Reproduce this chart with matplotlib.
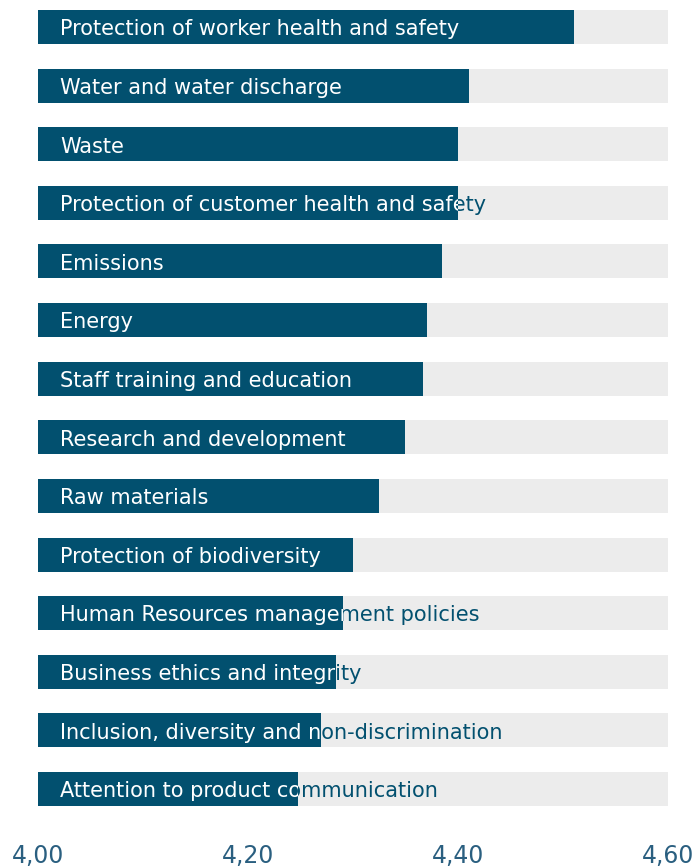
import matplotlib
matplotlib.use('Agg')
import matplotlib.pyplot as plt
from matplotlib.transforms import Bbox, TransformedBbox

# Data
topics = [
    'Protection of worker health and safety',
    'Water and water discharge',
    'Waste',
    'Protection of customer health and safety',
    'Emissions',
    'Energy',
    'Staff training and education',
    'Research and development',
    'Raw materials',
    'Protection of biodiversity',
    'Human Resources management policies',
    'Business ethics and integrity',
    'Inclusion, diversity and non-discrimination',
    'Attention to product communication',
]
scores = [4.51, 4.41, 4.40, 4.40, 4.385, 4.37, 4.367, 4.35, 4.325, 4.30, 4.29, 4.284, 4.27, 4.248]
x_min, x_max = 4.0, 4.6
tick_values = [4.0, 4.2, 4.4, 4.6]
tick_labels = ['4,00', '4,20', '4,40', '4,60']

dark = '#02506f'
grey = '#ececec'
h = 0.58

fig = plt.figure(figsize=(6.93, 8.66), dpi=100)
ax = fig.add_axes([38 / 693, 60 / 866, 630 / 693, 796 / 866])

for i, (name, v) in enumerate(zip(topics, scores)):
    ax.barh(i, x_max - x_min, left=x_min, height=h, color=grey, zorder=1)
    ax.barh(i, v - x_min, left=x_min, height=h, color=dark, zorder=2)
    # white part of the label, inside the bar
    t1 = ax.text(x_min + 0.021, i + 0.04, name, color='white', fontsize=15,
                 va='center', ha='left', family='DejaVu Sans', zorder=3)
    t1.set_clip_on(True)
    t1.set_clip_box(TransformedBbox(Bbox([[x_min, i - h / 2], [v, i + h / 2]]), ax.transData))
    # blue part, outside the bar
    t2 = ax.text(x_min + 0.021, i + 0.04, name, color=dark, fontsize=15,
                 va='center', ha='left', family='DejaVu Sans', zorder=3)
    t2.set_clip_on(True)
    t2.set_clip_box(TransformedBbox(Bbox([[v, i - h / 2], [x_max + 0.1, i + h / 2]]), ax.transData))

ax.set_xlim(x_min, x_max)
ax.set_ylim(len(topics) - 1 + h / 2, -h / 2)
ax.set_yticks([])
ax.set_xticks(tick_values)
ax.set_xticklabels(tick_labels, fontsize=17, color='#2a5f80', family='Liberation Sans Narrow')
ax.tick_params(axis='x', length=0, pad=27)
for s in ax.spines.values():
    s.set_visible(False)

fig.savefig('out.png', dpi=100)
